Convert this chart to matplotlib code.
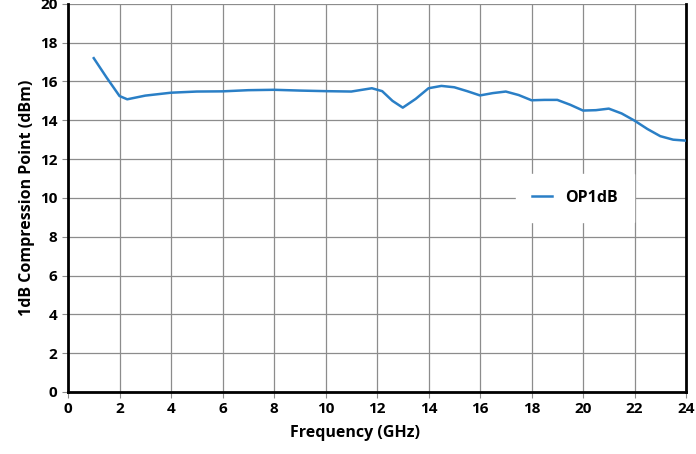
import matplotlib.pyplot as plt
import numpy as np

# OP1dB vs frequency
freq = [1, 1.5, 2, 2.3, 3, 4, 5, 6, 7, 8, 9, 10, 11, 11.8, 12.2, 12.6, 13, 13.5,
        14, 14.5, 15, 15.5, 16, 16.5, 17, 17.5, 18, 18.5, 19, 19.5, 20, 20.5,
        21, 21.5, 22, 22.5, 23, 23.5, 24]
op1db = [17.2, 16.2, 15.25, 15.08, 15.27, 15.42, 15.48, 15.49, 15.55, 15.57, 15.53,
         15.5, 15.48, 15.65, 15.5, 15.0, 14.65, 15.1, 15.65, 15.77, 15.7, 15.5,
         15.28, 15.4, 15.48, 15.3, 15.03, 15.05, 15.05, 14.8, 14.5, 14.52, 14.6,
         14.35, 13.98, 13.55, 13.18, 13.0, 12.95]

plt.rcParams['font.family'] = ['Open Sans', 'DejaVu Sans']

fig = plt.figure(figsize=(6.96, 4.54), dpi=100)
ax = fig.add_axes([0.0977, 0.1366, 0.888, 0.855])

ax.plot(freq, op1db, color="#2a7fc6", lw=1.8, label="OP1dB", zorder=3,
        solid_joinstyle="round")

ax.set_xlim(0, 24)
ax.set_ylim(0, 20)
ax.set_xticks(np.arange(0, 25, 2))
ax.set_yticks(np.arange(0, 21, 2))
ax.grid(True, color="#8c8c8c", lw=0.9)
ax.set_axisbelow(True)
ax.tick_params(direction="out", length=4, color="#8c8c8c", labelsize=11)
for lab in ax.get_xticklabels() + ax.get_yticklabels():
    lab.set_fontweight("bold")

for s in ["left", "bottom", "right"]:
    ax.spines[s].set_linewidth(2)
    ax.spines[s].set_color("black")
ax.spines["top"].set_visible(False)

ax.set_xlabel("Frequency (GHz)", fontsize=11.5, fontweight="bold")
ax.xaxis.set_label_coords(0.464, -0.085)
ax.set_ylabel("1dB Compression Point (dBm)", fontsize=11.5, fontweight="bold")

leg = ax.legend(loc="center", bbox_to_anchor=(0.82, 0.5), frameon=True,
                fancybox=False, handlelength=1.3, borderpad=1.0,
                prop={"weight": "bold", "size": 11.5})
leg.get_frame().set_edgecolor("white")
leg.get_frame().set_facecolor("white")
leg.get_frame().set_alpha(1)

fig.savefig("out.png", dpi=100)
